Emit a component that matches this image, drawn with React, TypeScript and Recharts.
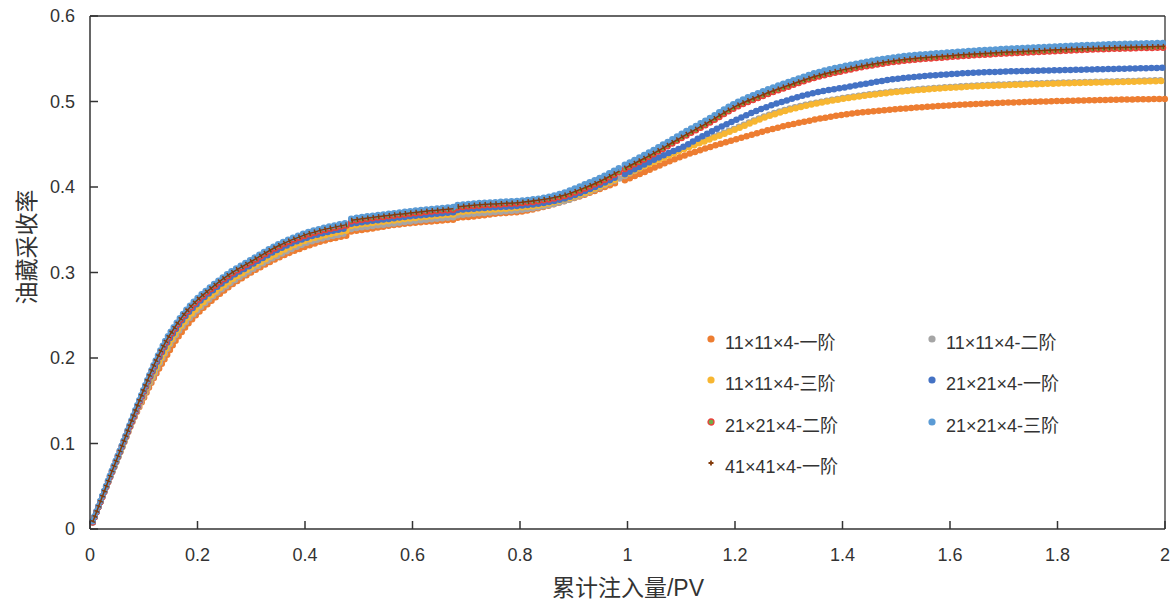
import { LineChart, Line, XAxis, YAxis, ReferenceLine } from "recharts";

const FONT = "'Liberation Sans', Arial, 'Noto Sans CJK SC', sans-serif";
const TEXT = "#333333";
const AXIS = "#333333";

// cumulative injection (PV); null rows split the curves where the runs restart
const pv = [
  0.005, 0.02, 0.04, 0.06, 0.08, 0.1, 0.12, 0.14, 0.16, 0.18, 0.2, 0.23, 0.26,
  0.3, 0.35, 0.4, 0.44, 0.478, 0.482, 0.486, 0.52, 0.56, 0.6, 0.64, 0.676, 0.68,
  0.684, 0.72, 0.76, 0.8, 0.84, 0.88, 0.92, 0.95, 0.985, 0.99, 0.995, 1.03, 1.07,
  1.1, 1.15, 1.2, 1.25, 1.3, 1.35, 1.4, 1.5, 1.6, 1.7, 1.8, 1.9, 2.0,
];

// recovery factor for each grid / scheme
const grid11First = [
  0.008, 0.033, 0.065, 0.096, 0.127, 0.153, 0.178, 0.2, 0.221, 0.238, 0.252, 0.269, 0.284,
  0.3, 0.317, 0.33, 0.338, 0.343, null, 0.348, 0.351, 0.355, 0.358, 0.36, 0.3618, null,
  0.364, 0.366, 0.369, 0.371, 0.376, 0.383, 0.391, 0.398, 0.4065, null, 0.408, 0.417, 0.428,
  0.4355, 0.446, 0.4555, 0.4645, 0.4725, 0.479, 0.4845, 0.491, 0.4955, 0.4985, 0.5005, 0.502, 0.503,
];
const grid11Second = [
  0.008, 0.033, 0.065, 0.096, 0.128, 0.156, 0.182, 0.206, 0.227, 0.243, 0.256, 0.273, 0.287,
  0.303, 0.32, 0.334, 0.341, 0.346, null, 0.351, 0.354, 0.357, 0.36, 0.3625, 0.3645, null,
  0.367, 0.369, 0.371, 0.373, 0.377, 0.383, 0.392, 0.4, 0.41, null, 0.413, 0.424, 0.436,
  0.444, 0.4565, 0.4685, 0.4815, 0.4915, 0.4985, 0.504, 0.512, 0.517, 0.52, 0.522, 0.5235, 0.525,
];
const grid11Third = [
  0.008, 0.033, 0.065, 0.096, 0.129, 0.158, 0.185, 0.209, 0.23, 0.246, 0.259, 0.276, 0.29,
  0.306, 0.323, 0.337, 0.344, 0.349, null, 0.3545, 0.3575, 0.3605, 0.3635, 0.366, 0.368, null,
  0.3705, 0.3725, 0.374, 0.376, 0.379, 0.385, 0.393, 0.401, 0.411, null, 0.414, 0.424, 0.435,
  0.443, 0.455, 0.467, 0.48, 0.49, 0.4975, 0.503, 0.511, 0.516, 0.519, 0.521, 0.5225, 0.524,
];
const grid21First = [
  0.008, 0.033, 0.065, 0.097, 0.129, 0.16, 0.189, 0.214, 0.234, 0.251, 0.264, 0.28, 0.294,
  0.309, 0.327, 0.34, 0.347, 0.352, null, 0.357, 0.36, 0.363, 0.366, 0.3685, 0.3705, null,
  0.373, 0.375, 0.3765, 0.378, 0.381, 0.386, 0.395, 0.403, 0.4135, null, 0.415, 0.426, 0.438,
  0.446, 0.463, 0.478, 0.4915, 0.502, 0.5105, 0.516, 0.5265, 0.532, 0.535, 0.5365, 0.538, 0.5395,
];
const grid21Second = [
  0.008, 0.033, 0.066, 0.098, 0.13, 0.162, 0.192, 0.217, 0.237, 0.254, 0.267, 0.283, 0.297,
  0.312, 0.33, 0.343, 0.35, 0.355, null, 0.36, 0.363, 0.366, 0.369, 0.3715, 0.3735, null,
  0.376, 0.378, 0.3795, 0.381, 0.384, 0.389, 0.398, 0.406, 0.4175, null, 0.421, 0.432, 0.446,
  0.457, 0.474, 0.4925, 0.506, 0.5175, 0.528, 0.5355, 0.5465, 0.552, 0.556, 0.559, 0.5615, 0.563,
];
const grid21Third = [
  0.009, 0.034, 0.067, 0.099, 0.132, 0.164, 0.194, 0.22, 0.24, 0.257, 0.27, 0.286, 0.3,
  0.315, 0.333, 0.346, 0.353, 0.358, null, 0.363, 0.366, 0.369, 0.372, 0.3745, 0.3765, null,
  0.379, 0.381, 0.3825, 0.384, 0.387, 0.393, 0.403, 0.411, 0.4225, null, 0.426, 0.437, 0.451,
  0.462, 0.4795, 0.498, 0.5115, 0.523, 0.5335, 0.541, 0.552, 0.5575, 0.5615, 0.5645, 0.567, 0.5685,
];
const grid41First = [
  0.008, 0.033, 0.066, 0.098, 0.131, 0.163, 0.193, 0.218, 0.238, 0.255, 0.268, 0.284, 0.298,
  0.313, 0.331, 0.344, 0.351, 0.356, null, 0.361, 0.364, 0.367, 0.37, 0.3725, 0.3745, null,
  0.377, 0.379, 0.3805, 0.382, 0.385, 0.39, 0.399, 0.407, 0.4185, null, 0.422, 0.433, 0.447,
  0.458, 0.4755, 0.494, 0.5075, 0.519, 0.5295, 0.537, 0.548, 0.5535, 0.5575, 0.5605, 0.563, 0.5645,
];

const xTicks = [0, 0.2, 0.4, 0.6, 0.8, 1, 1.2, 1.4, 1.6, 1.8, 2];
const yTicks = [0, 0.1, 0.2, 0.3, 0.4, 0.5, 0.6];

type Marker = "dot" | "ring" | "plus";
type Series = { key: string; name: string; color: string; inner?: string; marker: Marker; values: (number | null)[] };

// drawing order: later entries sit on top
const series: Series[] = [
  { key: "g11a", name: "11×11×4-一阶", color: "#ED7D31", marker: "dot", values: grid11First },
  { key: "g11b", name: "11×11×4-二阶", color: "#A5A5A5", marker: "dot", values: grid11Second },
  { key: "g11c", name: "11×11×4-三阶", color: "#F7B631", marker: "dot", values: grid11Third },
  { key: "g21a", name: "21×21×4-一阶", color: "#4472C4", marker: "dot", values: grid21First },
  { key: "g21b", name: "21×21×4-二阶", color: "#E8413A", inner: "#70AD47", marker: "ring", values: grid21Second },
  { key: "g21c", name: "21×21×4-三阶", color: "#5B9BD5", marker: "dot", values: grid21Third },
  { key: "g41a", name: "41×41×4-一阶", color: "#843C0C", marker: "plus", values: grid41First },
];

const data = pv.map((x, i) => {
  const row: Record<string, number | null> = { pv: x };
  series.forEach((s) => (row[s.key] = s.values[i]));
  return row;
});

const fmt = (v: number) => String(Number(v.toFixed(1)));

// markers along a curve: zero-length round-capped dashes give evenly spaced dots
function seriesLines(s: Series) {
  const base = {
    type: "monotone" as const,
    dataKey: s.key,
    dot: false,
    activeDot: false,
    isAnimationActive: false,
    connectNulls: false,
    legendType: "none" as const,
  };
  if (s.marker === "plus") {
    return [
      <Line key={s.key + "-h"} {...base} stroke={s.color} strokeWidth={1.5} />,
      <Line key={s.key + "-v"} {...base} stroke={s.color} strokeWidth={5} strokeDasharray="1.5 3.9" />,
    ];
  }
  const lines = [
    <Line key={s.key} {...base} stroke={s.color} strokeWidth={6.5} strokeLinecap="round" strokeDasharray="0 5.4" />,
  ];
  if (s.inner) {
    lines.push(
      <Line key={s.key + "-in"} {...base} stroke={s.inner} strokeWidth={3.5} strokeLinecap="round" strokeDasharray="0 5.4" />
    );
  }
  return lines;
}

function LegendMarker({ s }: { s: Series }) {
  return (
    <svg width={14} height={14} style={{ position: "relative", top: -2 }}>
      {s.marker === "plus" ? (
        <path d="M4.5 7h5M7 4.5v5" stroke={s.color} strokeWidth={1.8} />
      ) : s.marker === "ring" ? (
        <circle cx={7} cy={7} r={3} fill={s.inner} stroke={s.color} strokeWidth={1.3} />
      ) : (
        <circle cx={7} cy={7} r={3.6} fill={s.color} />
      )}
    </svg>
  );
}

export default function App() {
  return (
    <div style={{ position: "absolute", left: 0, top: 0, width: 1173, height: 607, background: "#fff", fontFamily: FONT }}>
      <LineChart width={1173} height={607} data={data} margin={{ top: 16, right: 8, bottom: 48, left: 40 }}>
        <XAxis
          dataKey="pv"
          type="number"
          domain={[0, 2]}
          ticks={xTicks}
          tickFormatter={fmt}
          height={30}
          stroke={AXIS}
          strokeWidth={1.5}
          tickSize={-8}
          tickMargin={27}
          tick={{ fill: TEXT, fontSize: 18, fontFamily: FONT }}
        />
        <YAxis
          type="number"
          domain={[0, 0.6]}
          ticks={yTicks}
          tickFormatter={fmt}
          width={50}
          stroke={AXIS}
          strokeWidth={1.5}
          tickSize={-8}
          tickMargin={23}
          tick={{ fill: TEXT, fontSize: 18, fontFamily: FONT }}
        />
        <ReferenceLine y={0.6} stroke={AXIS} strokeWidth={1.3} />
        <ReferenceLine x={2} stroke={AXIS} strokeWidth={1.3} />
        {series.flatMap((s) => seriesLines(s))}
      </LineChart>

      <div
        style={{
          position: "absolute",
          left: 25,
          top: 247,
          transform: "translate(-50%, -50%) rotate(-90deg)",
          fontSize: 23,
          color: TEXT,
          whiteSpace: "nowrap",
        }}
      >
        油藏采收率
      </div>
      <div
        style={{
          position: "absolute",
          left: 628,
          top: 586,
          transform: "translate(-50%, -50%)",
          fontSize: 23,
          color: TEXT,
          whiteSpace: "nowrap",
        }}
      >
        累计注入量/PV
      </div>

      <div
        style={{
          position: "absolute",
          left: 704,
          top: 320,
          display: "grid",
          gridTemplateColumns: "221px 221px",
          gridAutoRows: "41.5px",
          fontSize: 18,
          color: TEXT,
        }}
      >
        {series.map((s) => (
          <div key={s.key} style={{ display: "flex", alignItems: "center", gap: 7, whiteSpace: "nowrap" }}>
            <LegendMarker s={s} />
            <span>{s.name}</span>
          </div>
        ))}
      </div>
    </div>
  );
}
